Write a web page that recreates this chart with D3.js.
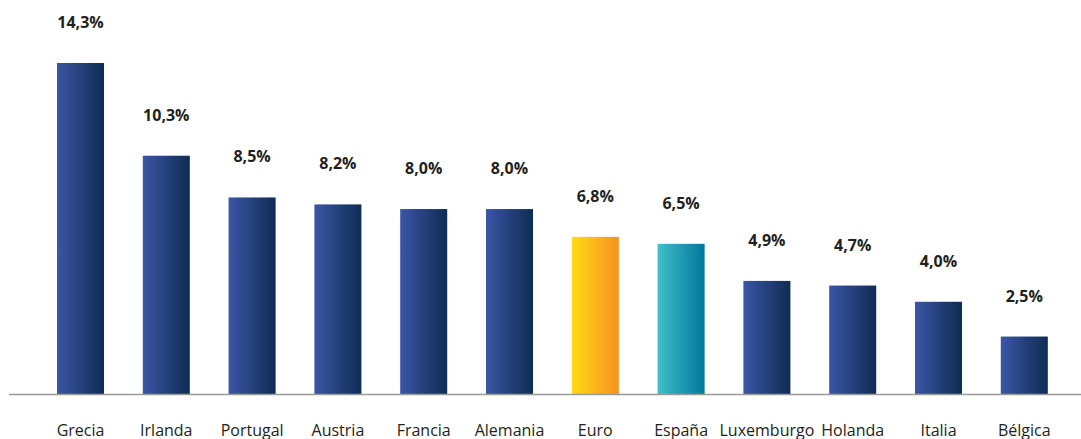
<!DOCTYPE html>
<html><head><meta charset="utf-8">
<script src="https://cdn.jsdelivr.net/npm/d3@7/dist/d3.min.js"></script>
<style>body{margin:0;background:#fff}svg{display:block}</style>
</head><body><svg id="c" width="1081" height="439"></svg>
<script>
const categories = ["Grecia","Irlanda","Portugal","Austria","Francia","Alemania","Euro","España","Luxemburgo","Holanda","Italia","Bélgica"];
const values = [14.3,10.3,8.5,8.2,8.0,8.0,6.8,6.5,4.9,4.7,4.0,2.5];
const valueLabels = ["14,3%","10,3%","8,5%","8,2%","8,0%","8,0%","6,8%","6,5%","4,9%","4,7%","4,0%","2,5%"];
const colorGroup = ["blue","blue","blue","blue","blue","blue","euro","spain","blue","blue","blue","blue"];

const svg = d3.select("#c");
const baseY = 394.5;
const x = d3.scaleBand().domain(categories).range([37.6,1067.2]).paddingInner(0.452).paddingOuter(0.226);
const y = d3.scaleLinear().domain([0,14.3]).range([baseY,63]);

const defs = svg.append("defs");
const grads = {blue:["#3b56a5","#0e2c53"], euro:["#ffdc14","#f7911f"], spain:["#41c0ca","#00779a"]};
Object.entries(grads).forEach(([k,[a,b]])=>{
  const g = defs.append("linearGradient").attr("id","g-"+k).attr("x1","0").attr("x2","1").attr("y1","0").attr("y2","0");
  g.append("stop").attr("offset","0").attr("stop-color",a);
  g.append("stop").attr("offset","1").attr("stop-color",b);
});

svg.selectAll("rect.bar").data(categories).join("rect").attr("class","bar")
  .attr("x",d=>x(d)).attr("width",x.bandwidth())
  .attr("y",(d,i)=>y(values[i])).attr("height",(d,i)=>baseY-y(values[i]))
  .attr("fill",(d,i)=>`url(#g-${colorGroup[i]})`);

svg.append("line").attr("x1",9).attr("x2",1081).attr("y1",baseY).attr("y2",baseY)
  .attr("stroke","#9a9a9a").attr("stroke-width",1.5);

svg.selectAll("text.val").data(categories).join("text").attr("class","val")
  .attr("x",d=>x(d)+x.bandwidth()/2).attr("y",(d,i)=>y(values[i])-35)
  .attr("text-anchor","middle").attr("font-family","'Open Sans', sans-serif")
  .attr("font-weight","bold").attr("font-size",16).attr("fill","#231f20")
  .text((d,i)=>valueLabels[i]);

const xAxis = d3.axisBottom(x).tickSize(0).tickPadding(0);
const ax = svg.append("g").attr("transform",`translate(0,${baseY})`).call(xAxis);
ax.select(".domain").remove();
ax.selectAll("text").attr("dy",null).attr("y",41).attr("font-family","'Open Sans', sans-serif")
  .attr("font-size",16).attr("fill","#231f20");
</script></body></html>
